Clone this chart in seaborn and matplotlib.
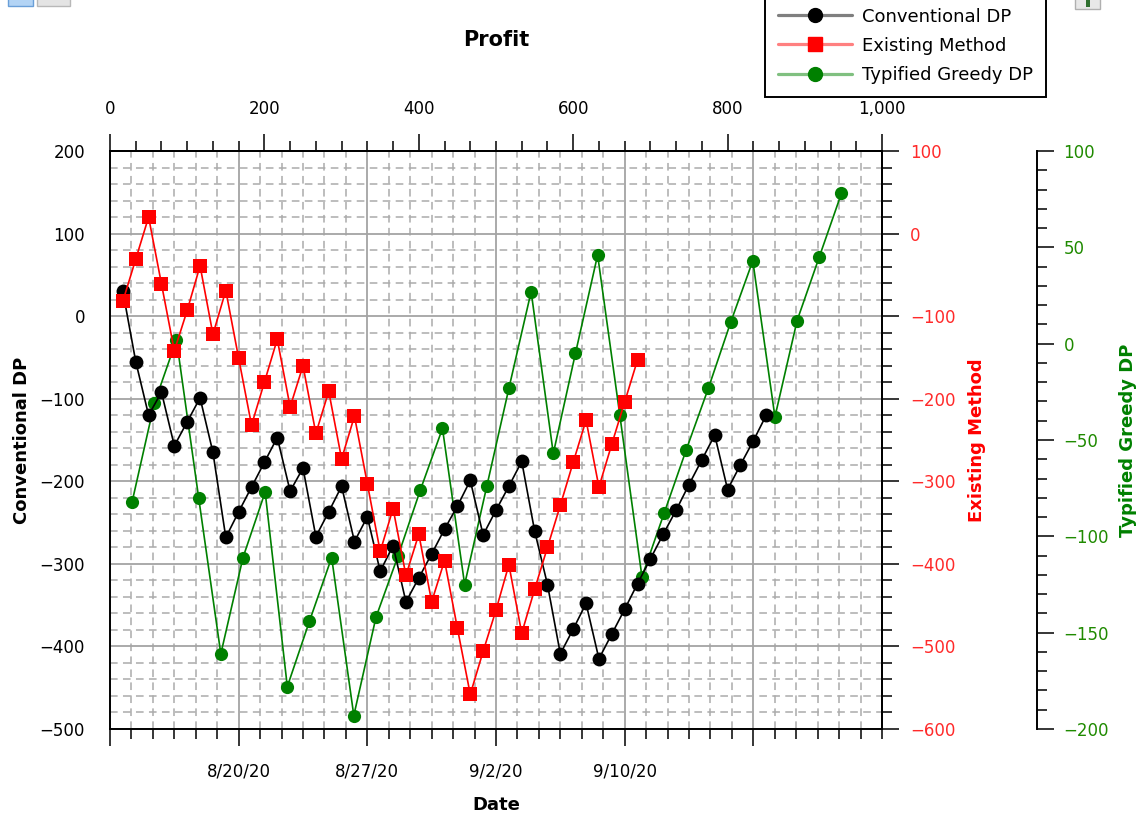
import numpy as np
import matplotlib
matplotlib.use("Agg")
import matplotlib.pyplot as plt
import seaborn as sns
from matplotlib.ticker import MultipleLocator, FuncFormatter
from matplotlib.lines import Line2D
from matplotlib.patches import Rectangle

# ---------------- data ----------------
conventional_dp = [30, -55, -120, -92, -157, -128, -99, -165, -268, -237,
                   -207, -177, -147, -212, -184, -267, -237, -206, -273, -243,
                   -309, -278, -346, -317, -288, -258, -230, -199, -265, -235,
                   -206, -176, -260, -325, -409, -379, -348, -415, -385, -355,
                   -324, -294, -264, -235, -204, -174, -144, -210, -180, -151,
                   -120]
existing_method = [-82, -31, 20, -61, -142, -93, -39, -122, -69, -151,
                   -232, -180, -128, -210, -160, -242, -191, -273, -221, -303,
                   -385, -333, -414, -364, -446, -396, -478, -558, -506, -456,
                   -401, -484, -431, -380, -329, -277, -226, -307, -255, -204,
                   -153]
typified_greedy_dp = [-82, -31, 2, -80, -161, -111, -77, -178, -144, -111,
                      -193, -142, -110, -76, -44, -125, -74, -23, 27, -57,
                      -5, 46, -37, -121, -88, -55, -23, 11, 43, -38,
                      12, 45, 78]
date_labels = ["", "8/20/20", "8/27/20", "9/2/20", "9/10/20", ""]
series_names = ["Conventional DP", "Existing Method", "Typified Greedy DP"]

# ---------------- style ----------------
sns.set_theme(style="white")
plt.rcParams["font.family"] = ["DejaVu Sans"]
plt.rcParams["axes.unicode_minus"] = True
for key in ["text.color", "axes.labelcolor", "xtick.color", "ytick.color",
            "axes.edgecolor"]:
    plt.rcParams[key] = "black"

W, H = 1142, 825
fig = plt.figure(figsize=(W / 100, H / 100), dpi=100)
fig.patch.set_facecolor("white")
L, R, T, B = 110, 882, 151, 729
rect = [L / W, 1 - B / H, (R - L) / W, (B - T) / H]

MAJ, MIN, TW = 12, 7, 1.1
TICKFS = 12
LABFS = 13
RED = "#ff0000"
GREEN = "#008000"

# ---------------- main axes: date axis + Conventional DP ----------------
ax = fig.add_axes(rect, zorder=0)
ax.set_facecolor("white")
ax.set_xlim(0, 36)
ax.set_ylim(-500, 200)
ax.set_xticks(np.arange(0, 31, 6), labels=date_labels)
ax.xaxis.set_minor_locator(MultipleLocator(1))
ax.yaxis.set_major_locator(MultipleLocator(100))
ax.yaxis.set_minor_locator(MultipleLocator(20))
ax.tick_params(axis="both", which="major", direction="out", length=MAJ, width=TW,
               color="black", labelsize=TICKFS, labelcolor="black")
ax.tick_params(axis="both", which="minor", direction="out", length=MIN, width=TW,
               color="black")
ax.tick_params(axis="x", which="major", pad=12)
ax.tick_params(axis="y", which="major", pad=6)
ax.grid(True, which="major", color="#a4a4a4", lw=1.3, ls="-")
ax.grid(True, which="minor", color="#ababab", lw=1.1, ls=(0, (5, 3.5)))
ax.set_axisbelow(True)
for s in ax.spines.values():
    s.set_color("black")
    s.set_linewidth(1.4)
ax.set_ylabel("Conventional DP", fontsize=LABFS, fontweight="bold",
              labelpad=6, color="black")
ax.set_xlabel("Date", fontsize=LABFS, fontweight="bold", labelpad=11,
              color="black")

# ---------------- top numeric axis ----------------
ax_top = ax.twiny()
ax_top.set_xlim(0, 1000)
ax_top.xaxis.set_major_locator(MultipleLocator(200))
ax_top.xaxis.set_minor_locator(MultipleLocator(200 / 6))
ax_top.xaxis.set_major_formatter(FuncFormatter(lambda v, p: f"{v:,.0f}"))
ax_top.tick_params(axis="x", which="major", direction="out", length=MAJ, width=TW,
                   labelsize=TICKFS, pad=12, color="black", labelcolor="black")
ax_top.tick_params(axis="x", which="minor", direction="out", length=MIN, width=TW,
                   color="black")
ax_top.grid(False)
for k, s in ax_top.spines.items():
    s.set_visible(k == "top")
    s.set_linewidth(1.4)
    s.set_color("black")


def overlay(z, name):
    a = fig.add_axes(rect, zorder=z, label=name)
    a.patch.set_visible(False)
    a.grid(False)
    a.xaxis.set_visible(False)
    for s in a.spines.values():
        s.set_visible(False)
    return a


# ---------------- Typified Greedy DP (outer right axis) ----------------
ax_g = overlay(1, "green")
sns.lineplot(x=np.arange(1, len(typified_greedy_dp) + 1), y=typified_greedy_dp,
             ax=ax_g, color=GREEN, marker="o", markersize=9.5,
             markeredgewidth=0, linewidth=1.2, legend=False)
ax_g.set_xlim(0, 34.83)
ax_g.set_ylim(-200, 100)
ax_g.yaxis.tick_right()
ax_g.yaxis.set_label_position("right")
ax_g.spines["right"].set_visible(True)
ax_g.spines["right"].set_position(("axes", (1037 - L) / (R - L)))
ax_g.spines["right"].set_color("black")
ax_g.spines["right"].set_linewidth(1.4)
ax_g.yaxis.set_major_locator(MultipleLocator(50))
ax_g.yaxis.set_minor_locator(MultipleLocator(10))
ax_g.tick_params(axis="y", which="major", direction="out", length=MAJ, width=TW,
                 color="black", labelsize=TICKFS, labelcolor="#1f8a00", pad=7)
ax_g.tick_params(axis="y", which="minor", direction="out", length=MIN, width=TW,
                 color="black")
ax_g.set_ylabel("Typified Greedy DP", fontsize=LABFS, fontweight="bold",
                color=GREEN, labelpad=7)

# ---------------- Conventional DP ----------------
ax_b = overlay(2, "black")
sns.lineplot(x=np.arange(1, len(conventional_dp) + 1), y=conventional_dp,
             ax=ax_b, color="black", marker="o", markersize=10,
             markeredgewidth=0, linewidth=1.2, legend=False)
ax_b.set_xlim(0, 60)
ax_b.set_ylim(-500, 200)
ax_b.yaxis.set_visible(False)

# ---------------- Existing Method (inner right axis) ----------------
ax_r = overlay(3, "red")
sns.lineplot(x=np.arange(1, len(existing_method) + 1), y=existing_method,
             ax=ax_r, color=RED, marker="s", markersize=9.5,
             markeredgewidth=0, linewidth=1.2, legend=False)
ax_r.set_xlim(0, 60)
ax_r.set_ylim(-600, 100)
ax_r.yaxis.tick_right()
ax_r.yaxis.set_label_position("right")
ax_r.spines["right"].set_visible(True)
ax_r.spines["right"].set_color("black")
ax_r.spines["right"].set_linewidth(1.4)
ax_r.yaxis.set_major_locator(MultipleLocator(100))
ax_r.yaxis.set_minor_locator(MultipleLocator(20))
ax_r.tick_params(axis="y", which="major", direction="out", length=MAJ, width=TW,
                 color="black", labelsize=TICKFS, labelcolor="#ff2a2a", pad=8)
ax_r.tick_params(axis="y", which="minor", direction="out", length=MIN, width=TW,
                 color="black")
ax_r.set_ylabel("Existing Method", fontsize=LABFS, fontweight="bold",
                color=RED, labelpad=9)

# ---------------- title ----------------
fig.text(496 / W, 1 - 40 / H, "Profit", ha="center", va="center",
         fontsize=15, fontweight="bold", color="black")

# ---------------- legend ----------------
handles = [
    Line2D([], [], color="#7f7f7f", lw=2.3, marker="o", markersize=10,
           markerfacecolor="black", markeredgecolor="black"),
    Line2D([], [], color="#ff8080", lw=2.3, marker="s", markersize=10,
           markerfacecolor=RED, markeredgecolor=RED),
    Line2D([], [], color="#80c080", lw=2.3, marker="o", markersize=10,
           markerfacecolor=GREEN, markeredgecolor=GREEN),
]
leg = fig.legend(handles=handles, labels=series_names, loc="lower left",
                 bbox_to_anchor=(765 / W, 1 - 97 / H),
                 bbox_transform=fig.transFigure, frameon=True, fancybox=False,
                 edgecolor="black", framealpha=1, facecolor="white",
                 fontsize=13, handlelength=4.1, handletextpad=0.55,
                 labelspacing=0.62, borderpad=0.72, borderaxespad=0,
                 labelcolor="black")
leg.get_frame().set_linewidth(1.4)

# ---------------- small window widgets in the corners ----------------
fig.patches.append(Rectangle((8 / W, 1 - 6 / H), 25 / W, 10 / H,
                             transform=fig.transFigure, facecolor="#b3d4f5",
                             edgecolor="#6a9fd8", lw=1.0))
fig.patches.append(Rectangle((37 / W, 1 - 6 / H), 33 / W, 10 / H,
                             transform=fig.transFigure, facecolor="#e4e4e4",
                             edgecolor="#b8b8b8", lw=1.0))
fig.patches.append(Rectangle((1075 / W, 1 - 9 / H), 25 / W, 12 / H,
                             transform=fig.transFigure, facecolor="#e8e8e8",
                             edgecolor="#b0b0b0", lw=1.0))
fig.patches.append(Rectangle((1086 / W, 1 - 7 / H), 4 / W, 8 / H,
                             transform=fig.transFigure, facecolor="#2f6f2f",
                             edgecolor="none"))

fig.savefig("out.png", dpi=100, facecolor="white")
